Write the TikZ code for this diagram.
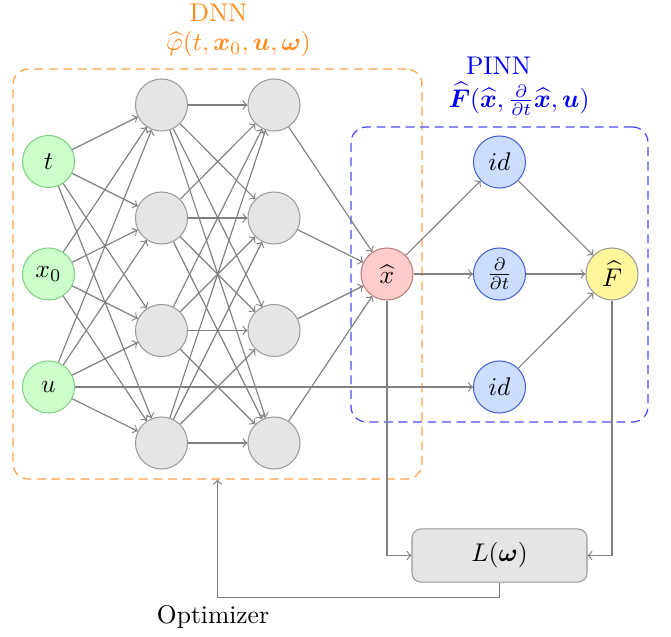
\documentclass[tikz,border=0pt]{standalone}
\usepackage{amsmath,bm}
\definecolor{idfill}{RGB}{204,222,255}
\definecolor{idborder}{RGB}{70,95,210}
\definecolor{ffill}{RGB}{255,246,155}
\definecolor{dnncol}{RGB}{255,140,30}
\begin{document}
\begin{tikzpicture}[x=0.392pt,y=-0.392pt,
  neuron/.style={circle,minimum size=20.4pt,inner sep=0pt,draw=gray!80},
  inp/.style={neuron,fill=green!20,draw=green!45!gray!70},
  hid/.style={neuron,fill=gray!20},
  xnode/.style={neuron,fill=red!20,draw=red!30!gray!80},
  opnode/.style={neuron,fill=idfill,draw=idborder},
  fnode/.style={neuron,fill=ffill,draw=gray!80},
  conn/.style={->,draw=gray,line width=0.45pt},
  grp/.style={draw,dash pattern=on 3.5pt off 2.2pt,rounded corners=6pt,inner sep=0pt,line width=0.5pt}
]
\useasboundingbox (0,0) rectangle (671,637);
% group boxes
\node[grp,draw=dnncol!80,minimum width=160.3pt,minimum height=160.7pt] (dnnbox) at (217.5,274) {};
\node[grp,draw=blue!70,minimum width=116.4pt,minimum height=115.6pt] (pinnbox) at (499.5,274.5) {};
% labels
\node[text=dnncol] (dnnlab) at (218.5,13) {DNN};
\node[text=dnncol] (philab) at (238.5,44) {$\widehat{\varphi}(t,\boldsymbol{x}_0,\boldsymbol{u},\boldsymbol{\omega})$};
\node[text=blue] (pinnlab) at (498.5,66) {PINN};
\node[text=blue] (flab) at (519,99) {$\widehat{\boldsymbol{F}}(\widehat{\boldsymbol{x}},\frac{\partial}{\partial t}\widehat{\boldsymbol{x}},\boldsymbol{u})$};
% input nodes
\node[inp] (i1) at (48.5,161.5) {$t$};
\node[inp] (i2) at (48.5,274) {$x_0$};
\node[inp] (i3) at (48.5,387) {$u$};
% hidden layers
\foreach \k/\y in {1/105,2/218,3/330.5,4/443}{
  \node[hid] (h\k) at (161.5,\y) {};
  \node[hid] (g\k) at (274,\y) {};
}
% PINN nodes
\node[xnode] (xh) at (387,274) {$\widehat{x}$};
\node[opnode] (id1) at (499.5,162) {$id$};
\node[opnode] (dt) at (499.5,274) {$\frac{\partial}{\partial t}$};
\node[opnode] (id2) at (499.5,387) {$id$};
\node[fnode] (F) at (612,274) {$\widehat{F}$};
% loss
\node[draw=gray!80,fill=gray!20,rounded corners=3.5pt,minimum width=68.6pt,minimum height=20.8pt] (L) at (499.5,555.5) {$L(\boldsymbol{\omega})$};
\node (opt) at (213,617) {Optimizer};
% connections
\foreach \a in {1,2,3}{\foreach \b in {1,2,3,4}{\draw[conn] (i\a) -- (h\b);}}
\foreach \a in {1,2,3,4}{\foreach \b in {1,2,3,4}{\draw[conn] (h\a) -- (g\b);}}
\foreach \a in {1,2,3,4}{\draw[conn] (g\a) -- (xh);}
\draw[conn] (i3) -- (id2);
\draw[conn] (xh) -- (id1);
\draw[conn] (xh) -- (dt);
\draw[conn] (id1) -- (F);
\draw[conn] (dt) -- (F);
\draw[conn] (id2) -- (F);
\draw[conn] (xh.south) |- (L.west);
\draw[conn] (F.south) |- (L.east);
\draw[conn] (L.south) -- ++(0,15) -| (dnnbox.south);
\end{tikzpicture}
\end{document}
